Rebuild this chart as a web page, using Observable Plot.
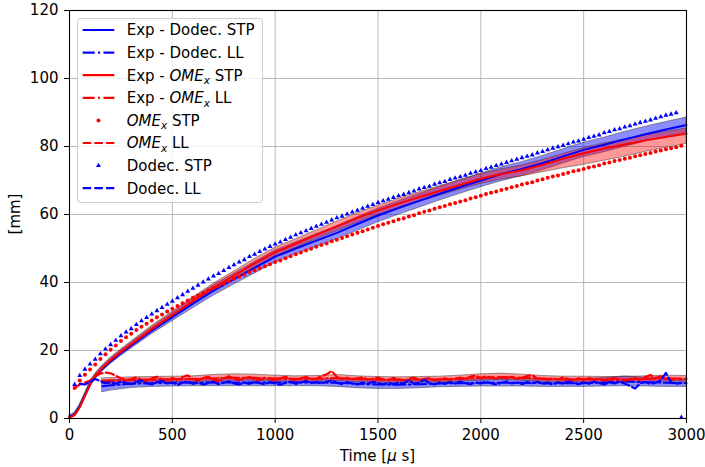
<!DOCTYPE html>
<html><head><meta charset="utf-8">
<script src="https://cdn.jsdelivr.net/npm/d3@7"></script>
<script src="https://cdn.jsdelivr.net/npm/@observablehq/plot@0.6"></script>
<style>body{margin:0;background:#fff} svg text{font-family:'DejaVu Sans',sans-serif}</style>
</head><body><div id="chart"></div>
<script>
// ---------- DATA ----------
const xTicks = [0, 500, 1000, 1500, 2000, 2500, 3000];
const yTicks = [0, 20, 40, 60, 80, 100, 120];

// Experimental STP (solid lines with bands)
const expT = [0, 25, 50, 75, 100, 125, 150, 200, 250, 300, 400, 500, 600, 700, 800, 900, 1000, 1100, 1200, 1300,
  1400, 1500, 1600, 1700, 1800, 1900, 2000, 2100, 2200, 2300, 2400, 2500, 2600, 2700, 2800, 2900, 3000];
const expDodecSTP = [0.5, 1.2, 3.5, 6.8, 10.0, 12.2, 14.0, 16.8, 19.2, 21.4, 25.8, 29.8, 33.8, 37.6, 41.0, 44.3, 47.6, 50.0, 52.3, 54.6,
  57.2, 59.7, 61.9, 64.0, 66.1, 68.1, 70.0, 71.9, 73.4, 75.1, 77.1, 79.0, 80.5, 82.1, 83.6, 85.0, 86.3];
const expDodecSTPlo = [0.2, 0.7, 2.9, 6.2, 9.3, 11.5, 13.3, 16.0, 18.4, 20.5, 24.8, 28.6, 32.4, 36.1, 39.4, 42.6, 45.8, 48.2, 50.4, 52.7,
  55.2, 57.7, 59.9, 62.0, 64.1, 66.1, 68.0, 69.8, 71.3, 73.0, 75.0, 76.9, 78.3, 79.9, 81.4, 82.8, 84.1];
const expDodecSTPhi = [0.8, 1.7, 4.1, 7.4, 10.7, 12.9, 14.7, 17.6, 20.0, 22.3, 26.8, 31.0, 35.2, 39.1, 42.6, 46.0, 49.4, 51.8, 54.2, 56.5,
  59.2, 61.7, 63.9, 66.0, 68.1, 70.1, 72.0, 73.9, 75.4, 77.2, 79.2, 81.1, 82.6, 84.3, 85.8, 87.2, 88.5];
const expOmeSTP = [0.3, 1.0, 3.3, 6.6, 10.0, 12.5, 14.3, 17.2, 19.6, 21.8, 26.3, 30.4, 34.5, 38.4, 42.0, 45.6, 48.9, 51.4, 54.0, 56.5,
  59.0, 61.2, 63.2, 65.1, 66.9, 68.7, 70.5, 71.9, 73.0, 74.6, 76.4, 78.0, 79.4, 80.6, 81.8, 82.8, 83.8];
const expOmeSTPlo = [0.0, 0.6, 2.8, 6.1, 9.4, 11.9, 13.7, 16.5, 18.9, 21.0, 25.4, 29.4, 33.4, 37.2, 40.8, 44.3, 47.6, 50.1, 52.7, 55.1,
  57.6, 59.8, 61.8, 63.7, 65.5, 67.3, 69.0, 70.3, 71.2, 72.4, 73.6, 74.6, 75.8, 77.0, 78.4, 79.6, 80.8];
const expOmeSTPhi = [0.6, 1.4, 3.8, 7.1, 10.6, 13.1, 14.9, 17.9, 20.3, 22.6, 27.2, 31.4, 35.6, 39.6, 43.2, 46.9, 50.2, 52.7, 55.3, 57.9,
  60.4, 62.6, 64.6, 66.5, 68.3, 70.1, 71.9, 73.3, 74.4, 76.0, 77.8, 79.5, 80.9, 82.1, 83.3, 84.3, 85.3];

// Experimental LL (dash-dot lines with bands)
const expLLT = [160, 200, 300, 400, 500, 600, 700, 800, 900, 1000, 1100, 1200, 1300, 1400, 1500,
  1600, 1700, 1800, 1900, 2000, 2100, 2200, 2300, 2400, 2500, 2600, 2700, 2800, 2900, 3000];
const expDodecLL = [9.5, 9.8, 10.2, 10.4, 10.5, 10.5, 10.6, 10.6, 10.6, 10.6, 10.6, 10.6, 10.5, 10.2, 10.0,
  9.9, 10.1, 10.3, 10.4, 10.5, 10.5, 10.5, 10.4, 10.4, 10.4, 10.6, 10.9, 10.7, 10.5, 10.4];
const expDodecLLlo = [7.7, 8.2, 9.0, 9.3, 9.4, 9.5, 9.5, 9.5, 9.5, 9.5, 9.5, 9.5, 9.3, 8.9, 8.7,
  8.7, 8.9, 9.2, 9.3, 9.4, 9.4, 9.4, 9.3, 9.3, 9.3, 9.4, 9.5, 9.4, 9.3, 9.3];
const expDodecLLhi = [11.2, 11.3, 11.4, 11.5, 11.6, 11.6, 11.7, 11.7, 11.7, 11.7, 11.7, 11.7, 11.6, 11.4, 11.3,
  11.2, 11.3, 11.4, 11.5, 11.6, 11.6, 11.6, 11.5, 11.5, 11.6, 11.9, 12.4, 12.0, 11.7, 11.5];
const expOmeLL = [11.0, 11.1, 11.3, 11.4, 11.5, 11.6, 11.8, 12.0, 12.0, 11.8, 11.6, 11.7, 11.9, 11.6, 11.4,
  11.3, 11.4, 11.5, 11.7, 12.0, 12.2, 12.0, 11.7, 11.5, 11.5, 11.4, 11.4, 11.6, 11.8, 11.7];
const expOmeLLlo = [10.1, 10.2, 10.4, 10.5, 10.6, 10.7, 10.9, 11.1, 11.1, 10.9, 10.7, 10.8, 11.0, 10.7, 10.5,
  10.4, 10.5, 10.6, 10.8, 11.1, 11.3, 11.1, 10.8, 10.6, 10.6, 10.5, 10.5, 10.7, 10.9, 10.8];
const expOmeLLhi = [11.8, 11.9, 12.1, 12.2, 12.3, 12.4, 12.8, 13.0, 12.9, 12.6, 12.4, 12.5, 12.8, 12.4, 12.2,
  12.1, 12.2, 12.3, 12.6, 13.0, 13.2, 12.9, 12.5, 12.3, 12.3, 12.2, 12.2, 12.4, 12.6, 12.5];

// Simulations, sampled every 25 µs
const simT = d3.range(25, 3000, 25);          // 25 .. 2975
const simT2 = d3.range(50, 3000, 25);         // 50 .. 2975
const omeSTP = [9.0, 11.2, 12.9, 14.4, 15.9, 17.5, 18.9, 20.2, 21.5, 22.8,
  23.9, 24.9, 26.0, 27.0, 27.9, 28.8, 29.8, 30.6, 31.5, 32.3,
  33.1, 33.9, 34.7, 35.5, 36.2, 36.9, 37.7, 38.4, 39.0, 39.7,
  40.4, 41.1, 41.7, 42.3, 43.0, 43.6, 44.2, 44.8, 45.4, 46.0,
  46.5, 47.1, 47.7, 48.3, 48.8, 49.4, 49.9, 50.5, 51.0, 51.5,
  52.1, 52.6, 53.1, 53.6, 54.1, 54.6, 55.1, 55.6, 56.1, 56.6,
  57.1, 57.6, 58.0, 58.5, 58.9, 59.4, 59.8, 60.4, 60.8, 61.2,
  61.7, 62.1, 62.5, 63.0, 63.4, 63.8, 64.2, 64.7, 65.1, 65.5,
  66.0, 66.4, 66.8, 67.2, 67.6, 68.0, 68.4, 68.8, 69.2, 69.5,
  70.0, 70.4, 70.8, 71.2, 71.5, 71.9, 72.3, 72.7, 73.0, 73.4,
  73.8, 74.1, 74.5, 75.0, 75.3, 75.7, 76.0, 76.4, 76.7, 77.1,
  77.4, 77.8, 78.1, 78.5, 78.8, 79.2, 79.5, 79.8, 80.2];
const dodecSTP = [10.0, 12.6, 14.5, 16.0, 17.4, 19.0, 20.4, 21.7, 23.0, 24.3,
  25.4, 26.4, 27.6, 28.7, 29.7, 30.7, 31.7, 32.6, 33.6, 34.5,
  35.5, 36.4, 37.4, 38.3, 39.2, 40.1, 41.0, 41.9, 42.6, 43.5,
  44.4, 45.2, 46.0, 46.7, 47.6, 48.3, 49.1, 49.8, 50.6, 51.3,
  51.9, 52.6, 53.3, 54.0, 54.6, 55.2, 55.9, 56.5, 57.1, 57.7,
  58.4, 59.0, 59.5, 60.1, 60.7, 61.2, 61.8, 62.4, 62.9, 63.5,
  64.0, 64.5, 65.0, 65.5, 65.9, 66.4, 66.9, 67.5, 67.9, 68.3,
  68.9, 69.3, 69.7, 70.3, 70.7, 71.1, 71.5, 72.1, 72.5, 72.9,
  73.5, 73.9, 74.4, 74.8, 75.3, 75.8, 76.2, 76.7, 77.1, 77.5,
  78.1, 78.5, 79.0, 79.5, 79.9, 80.3, 80.8, 81.3, 81.6, 82.1,
  82.6, 83.0, 83.4, 84.0, 84.4, 84.9, 85.2, 85.7, 86.1, 86.6,
  87.0, 87.4, 87.8, 88.3, 88.7, 89.2, 89.5, 89.9, 0.3];
const omeLL = [9.0, 10.0, 10.6, 11.2, 12.4, 13.2, 13.5, 13.3, 12.6, 11.8,
  11.3, 11.6, 12.1, 11.4, 11.0, 11.8, 12.3, 11.5, 11.2, 11.9,
  11.4, 12.2, 12.7, 11.6, 11.1, 11.9, 12.3, 11.3, 11.0, 11.8,
  12.4, 11.7, 11.2, 11.9, 12.2, 11.5, 11.3, 12.0, 11.6, 11.2,
  11.8, 12.3, 11.6, 11.3, 11.9, 12.2, 11.5, 11.7, 12.4, 13.0,
  14.0, 12.2, 11.6, 12.0, 11.5, 11.8, 12.1, 11.4, 11.7, 12.0,
  11.5, 11.3, 11.9, 11.6, 11.2, 11.7, 12.0, 11.4, 11.6, 11.9,
  11.3, 11.5, 11.8, 11.4, 11.7, 12.0, 11.6, 12.3, 12.6, 11.9,
  12.4, 12.1, 11.7, 12.2, 11.8, 12.3, 11.6, 12.0, 12.5, 12.8,
  11.7, 11.9, 11.4, 11.8, 11.5, 12.1, 11.6, 11.3, 11.8, 11.5,
  11.9, 11.4, 11.7, 11.2, 11.6, 11.9, 11.4, 11.1, 11.6, 11.8,
  11.3, 12.2, 12.8, 11.9, 12.4, 11.7, 11.3, 11.8, 11.5];
const dodecLL = [10.2, 10.0, 10.8, 11.6, 11.0, 10.4, 10.7, 10.2, 10.9, 10.5,
  10.1, 10.8, 11.2, 10.4, 10.0, 10.7, 11.1, 10.3, 10.6, 9.9,
  10.5, 10.9, 10.2, 10.6, 10.0, 10.4, 10.8, 10.1, 10.5, 10.9,
  10.3, 10.0, 10.6, 10.2, 10.8, 10.4, 10.1, 10.7, 10.3, 9.9,
  10.5, 10.8, 10.2, 10.6, 11.0, 10.4, 10.7, 10.3, 10.8, 11.2,
  10.5, 10.1, 10.7, 10.3, 10.0, 10.6, 10.2, 10.8, 10.4, 10.0,
  10.5, 10.1, 10.6, 10.3, 11.3, 10.2, 10.5, 11.4, 10.4, 10.0,
  10.6, 10.2, 10.7, 10.3, 10.9, 10.4, 10.1, 10.6, 10.3, 10.8,
  10.4, 10.0, 10.5, 10.9, 10.3, 10.6, 10.1, 10.7, 10.4, 10.8,
  10.2, 10.5, 10.0, 10.6, 10.3, 10.9, 10.4, 10.1, 10.6, 10.2,
  10.8, 10.4, 10.0, 10.7, 10.3, 10.9, 10.2, 9.6, 8.8, 10.4,
  10.7, 10.2, 10.5, 11.2, 13.4, 10.6, 10.2, 10.5];

// ---------- CHART ----------
const BLUE = "#0000ff", RED = "#ff0000";
const DASH = "8.5,3.2", DASHDOT = "12,3.4,2,3.4";
const bandEdge = {stroke: "#333", strokeOpacity: 0.55, strokeWidth: 0.9};
const FONT = "'DejaVu Sans', sans-serif";

const chart = Plot.plot({
  width: 705, height: 467,
  marginLeft: 69, marginRight: 19, marginTop: 10, marginBottom: 49,
  style: {fontFamily: FONT, fontSize: "15px", color: "black", background: "white", overflow: "visible"},
  x: {domain: [0, 3000]},
  y: {domain: [0, 120]},
  marks: [
    Plot.gridX(xTicks, {stroke: "#b0b0b0", strokeOpacity: 1, strokeWidth: 0.9}),
    Plot.gridY(yTicks, {stroke: "#b0b0b0", strokeOpacity: 1, strokeWidth: 0.9}),
    // bands (drawn below all lines)
    Plot.areaY(expT, {x: expT, y1: expDodecSTPlo, y2: expDodecSTPhi, fill: BLUE, fillOpacity: 0.45, ...bandEdge}),
    Plot.areaY(expLLT, {x: expLLT, y1: expDodecLLlo, y2: expDodecLLhi, fill: BLUE, fillOpacity: 0.45, ...bandEdge}),
    Plot.areaY(expT, {x: expT, y1: expOmeSTPlo, y2: expOmeSTPhi, fill: RED, fillOpacity: 0.4, ...bandEdge}),
    Plot.areaY(expLLT, {x: expLLT, y1: expOmeLLlo, y2: expOmeLLhi, fill: RED, fillOpacity: 0.4, ...bandEdge}),
    // experimental lines
    Plot.lineY(expDodecSTP, {x: expT, stroke: BLUE, strokeWidth: 2}),
    Plot.lineY(expDodecLL, {x: expLLT, stroke: BLUE, strokeWidth: 2, strokeDasharray: DASHDOT}),
    Plot.lineY(expOmeSTP, {x: expT, stroke: RED, strokeWidth: 2}),
    Plot.lineY(expOmeLL, {x: expLLT, stroke: RED, strokeWidth: 2, strokeDasharray: DASHDOT}),
    // simulations
    Plot.dot(omeSTP, {x: simT, y: omeSTP, r: 2.0, fill: RED, stroke: null}),
    Plot.lineY(omeLL, {x: simT, stroke: RED, strokeWidth: 2.2, strokeDasharray: DASH}),
    Plot.dot(dodecSTP, {x: simT, y: dodecSTP, r: 1.85, symbol: "triangle", fill: BLUE, stroke: null}),
    Plot.lineY(dodecLL, {x: simT2, stroke: BLUE, strokeWidth: 2.2, strokeDasharray: DASH}),
    // axes and frame
    Plot.axisX({ticks: xTicks, tickFormat: d => String(d), tickSize: 5, tickPadding: 6, fontSize: 15, label: null, stroke: "black", strokeWidth: 1}),
    Plot.axisY({ticks: yTicks, tickFormat: d => String(d), tickSize: 5, tickPadding: 6, fontSize: 15, label: null, stroke: "black", strokeWidth: 1}),
    Plot.frame({stroke: "black", strokeWidth: 1.1})
  ]
});
document.getElementById("chart").appendChild(chart);

// ---------- LABELS & LEGEND ----------
const svg = d3.select(chart);

const xl = svg.append("text").attr("x", 377.5).attr("y", 461).attr("text-anchor", "middle")
  .style("font-family", FONT).attr("font-size", 15).attr("fill", "black");
xl.append("tspan").text("Time [");
xl.append("tspan").attr("font-style", "italic").text("μ");
xl.append("tspan").text(" s]");

svg.append("text").attr("transform", "translate(20,214) rotate(-90)").attr("text-anchor", "middle")
  .style("font-family", FONT).attr("font-size", 15).attr("fill", "black").text("[mm]");

const legendItems = [
  {pre: "Exp - Dodec. STP", ome: false, post: "", color: BLUE, kind: "solid"},
  {pre: "Exp - Dodec. LL", ome: false, post: "", color: BLUE, kind: "dashdot"},
  {pre: "Exp - ", ome: true, post: " STP", color: RED, kind: "solid"},
  {pre: "Exp - ", ome: true, post: " LL", color: RED, kind: "dashdot"},
  {pre: "", ome: true, post: " STP", color: RED, kind: "dot"},
  {pre: "", ome: true, post: " LL", color: RED, kind: "dashed"},
  {pre: "Dodec. STP", ome: false, post: "", color: BLUE, kind: "triangle"},
  {pre: "Dodec. LL", ome: false, post: "", color: BLUE, kind: "dashed"}
];
const lg = svg.append("g").attr("text-anchor", "start");
lg.append("rect").attr("x", 77.5).attr("y", 18.5).attr("width", 185).attr("height", 184)
  .attr("rx", 3).attr("fill", "white").attr("fill-opacity", 0.8).attr("stroke", "#cccccc").attr("stroke-width", 1);
legendItems.forEach((it, i) => {
  const cy = 30 + i * 22.6;
  if (it.kind === "dot") {
    lg.append("circle").attr("cx", 98.5).attr("cy", cy).attr("r", 2.0).attr("fill", it.color);
  } else if (it.kind === "triangle") {
    lg.append("path").attr("transform", `translate(98.5,${cy})`)
      .attr("d", d3.symbol(d3.symbolTriangle, Math.PI * 1.85 * 1.85)()).attr("fill", it.color);
  } else {
    lg.append("line").attr("x1", 82.7).attr("x2", 114.3).attr("y1", cy).attr("y2", cy)
      .attr("stroke", it.color).attr("stroke-width", 2.2)
      .attr("stroke-dasharray", it.kind === "dashed" ? DASH : it.kind === "dashdot" ? DASHDOT : null);
  }
  const t = lg.append("text").attr("x", 126.7).attr("y", cy + 5.4).attr("text-anchor", "start")
    .style("font-family", FONT).attr("font-size", 15).attr("fill", "black").style("white-space", "pre");
  if (it.pre) t.append("tspan").text(it.pre);
  if (it.ome) {
    t.append("tspan").attr("font-style", "italic").text("OME");
    t.append("tspan").attr("font-style", "italic").attr("font-size", 10.5).attr("dy", 3.5).text("x");
    t.append("tspan").attr("dy", -3.5).text(it.post);
  }
});
</script></body></html>
